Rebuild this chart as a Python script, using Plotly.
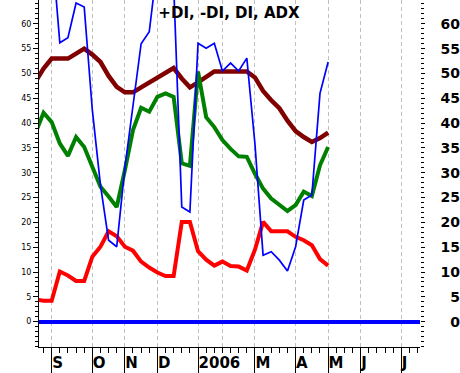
import plotly.graph_objects as go

# weekly index (0 = first week of September 2005)
weeks = list(range(-2, 35))

adx = [48.3, 51, 53, 53, 53, 54, 55, 53.8, 52.3, 49.5, 47.3, 46.2, 46.2, 47.2, 48.2, 49.2,
       50.2, 51.1, 49, 47.2, 48.2, 49.3, 50.4, 50.4, 50.4, 50.4, 50.4, 49.2, 46.5, 44.6, 43,
       40.5, 38.4, 37.2, 36.2, 37, 38.1]
di = [38, 42.1, 40.2, 35.9, 33.4, 37.2, 35.2, 31.2, 27.2, 25.2, 23.1, 30.5, 38.6, 43.1, 42.3,
      45.3, 46, 45.3, 31.9, 31.4, 50.4, 41.2, 39.2, 36.6, 34.8, 33.3, 33.2, 29.8, 26.8, 24.8,
      23.5, 22.3, 23.5, 26.2, 25.3, 31.5, 35.2]
minus_di = [4.5, 4.2, 4.2, 10.1, 9.3, 8.2, 8.2, 13.1, 15.1, 18.2, 17.2, 15.1, 14.3, 12.1, 10.9,
            9.9, 9.2, 9.2, 20.1, 20.1, 14.2, 12.5, 11.3, 12.1, 11.2, 11.1, 10.3, 14.5, 20.1,
            18.2, 18.2, 18.2, 17.1, 16.4, 15.4, 12.6, 11.3]
plus_di = [80, 80, 76, 56.2, 57.2, 64.2, 63.4, 42.6, 27.5, 16.4, 15.1, 31, 43.5, 56, 58.4, 72,
           75, 68, 23.1, 22.1, 56.1, 55.1, 56.1, 50.5, 52.1, 50.5, 53.1, 35.8, 13.4, 14.1,
           12.4, 10.2, 15.1, 24.5, 25.5, 46, 52.3]

month_weeks = [0, 5, 9, 13, 18, 21, 25, 30, 34, 38, 43]
month_labels = ["S", "O", "N", "D", "2006", "", "M", "A", "M", "J", "J"]
y_ticks = list(range(0, 61, 5))

x_range = [-1.56, 45.3]
y_range = [-5.1, 64.8]

label_weeks = [w for w, t in zip(month_weeks, month_labels) if t]
label_text = [t for t in month_labels if t]

fig = go.Figure()
fig.add_trace(go.Scatter(x=weeks, y=adx, mode="lines", line=dict(color="#800000", width=4.5),
                         name="ADX", hoverinfo="skip"))
fig.add_trace(go.Scatter(x=weeks, y=minus_di, mode="lines", line=dict(color="#ff0000", width=4),
                         name="-DI", hoverinfo="skip"))
fig.add_trace(go.Scatter(x=weeks, y=di, mode="lines", line=dict(color="#008000", width=4),
                         name="DI", hoverinfo="skip"))
fig.add_trace(go.Scatter(x=weeks, y=plus_di, mode="lines", line=dict(color="#0000ff", width=1.7),
                         name="+DI", hoverinfo="skip"))
# empty helper traces so the overlay axes are drawn
for xa, ya in [("x2", "y"), ("x", "y2"), ("x", "y3")]:
    fig.add_trace(go.Scatter(x=[None], y=[None], xaxis=xa, yaxis=ya, mode="lines",
                             hoverinfo="skip", showlegend=False))

small = dict(family="DejaVu Sans", size=8, color="black")
bold14 = dict(family="DejaVu Sans", size=14, color="black", weight="bold")
bold15 = dict(family="DejaVu Sans", size=15, color="black", weight="bold")

fig.update_layout(
    width=460, height=373,
    margin=dict(l=39, r=0, t=0, b=26, pad=0),
    paper_bgcolor="white", plot_bgcolor="white",
    showlegend=False,
    title=dict(text="+DI, -DI, DI, ADX", font=bold15, xref="container", yref="container",
               x=229 / 460, y=1 - 13 / 373, xanchor="center", yanchor="middle"),
    xaxis=dict(range=x_range, domain=[0, 381 / 421], anchor="y", automargin=False,
               tickmode="array", tickvals=month_weeks, ticks="", showticklabels=False,
               showgrid=True, gridcolor="#c0c0c0", gridwidth=1, griddash="4px,3px",
               showline=True, linecolor="black", linewidth=1, zeroline=False),
    xaxis2=dict(range=x_range, domain=[0, 381 / 421], overlaying="x", anchor="y", side="bottom",
                automargin=False,
                tickmode="array", tickvals=label_weeks, ticktext=label_text,
                ticks="outside", ticklen=25, tickwidth=1, tickcolor="black",
                ticklabelposition="outside right", tickfont=bold15, ticklabelstandoff=2,
                showgrid=False, showline=False, zeroline=False,
                minor=dict(tickmode="linear", tick0=0, dtick=1, ticks="outside", ticklen=5,
                           tickcolor="black", showgrid=False)),
    yaxis=dict(range=y_range, anchor="x", side="left", automargin=False,
               tickmode="array", tickvals=y_ticks, ticks="outside", ticklen=5,
               tickcolor="black", tickfont=small,
               showline=True, linecolor="black", linewidth=1, showgrid=False,
               zeroline=True, zerolinecolor="#0000ff", zerolinewidth=4,
               minor=dict(tickmode="linear", tick0=0, dtick=1, ticks="outside", ticklen=3,
                          tickcolor="black", showgrid=False)),
    yaxis3=dict(range=y_range, overlaying="y", anchor="x", side="right", automargin=False,
                tickmode="array", tickvals=y_ticks, ticks="outside", ticklen=4,
                tickcolor="black", showticklabels=False,
                showline=False, showgrid=False, zeroline=False,
                minor=dict(tickmode="linear", tick0=0, dtick=1, ticks="outside", ticklen=3,
                           tickcolor="black", showgrid=False)),
    yaxis2=dict(range=y_range, overlaying="y", anchor="free", position=1, side="left",
                automargin=False,
                tickmode="array", tickvals=y_ticks, ticks="", tickfont=bold14,
                showline=False, showgrid=False, zeroline=False),
)

fig.write_html("out.html", config={"displayModeBar": False},
               post_script="document.body.style.margin='0';")
